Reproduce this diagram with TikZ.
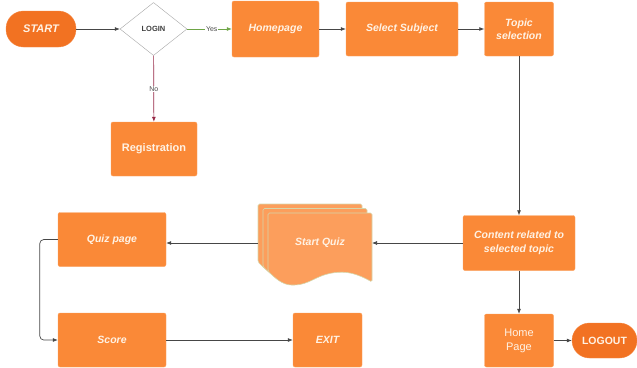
\documentclass[tikz,border=0pt]{standalone}
\usepackage{fontspec}
\setmainfont{Liberation Sans}
\usetikzlibrary{shapes.geometric,arrows.meta}
\definecolor{boxorange}{RGB}{250,137,55}
\definecolor{pillorange}{RGB}{242,114,34}
\definecolor{docorange}{RGB}{252,158,92}
\definecolor{docedge}{RGB}{214,214,170}
\definecolor{boxtext}{RGB}{255,242,228}
\definecolor{yesgreen}{RGB}{110,165,70}
\definecolor{nored}{RGB}{150,40,70}
\definecolor{linegray}{RGB}{70,70,70}
\begin{document}
\begin{tikzpicture}[
        x=1pt, y=-1pt,
        every node/.style={font=\fontsize{10.5}{13.5}\selectfont\bfseries\itshape, text=boxtext, align=center, inner sep=0pt},
        box/.style={rectangle, rounded corners=2pt, fill=boxorange, draw=boxorange!80!white},
        pill/.style={rectangle, rounded corners=17.5pt, fill=pillorange, draw=pillorange!85!white},
        decision/.style={diamond, fill=white, draw=gray!70, text=black!75, font=\fontsize{7.5}{9}\selectfont\bfseries},
        docshape/.style={fill=docorange, draw=docedge, line width=0.6pt, rounded corners=1.5pt},
        flow/.style={-{Latex[length=5pt,width=4pt]}, draw=linegray, line width=0.7pt},
        tag/.style={font=\fontsize{7}{8}\selectfont, text=black!70, fill=white, inner sep=0.6pt}
    ]
        \useasboundingbox (0,0) rectangle (637,367);

        % Top row
        \node[pill, minimum width=70pt, minimum height=36pt, font=\fontsize{11}{13}\selectfont\bfseries\itshape] (start) at (41,29) {START};
        \node[decision, minimum width=67pt, minimum height=53pt] (login) at (153.5,29) {LOGIN};
        \node[box, minimum width=87pt, minimum height=56pt] (home) at (275.5,29) {Homepage};
        \node[box, minimum width=112pt, minimum height=54pt] (subject) at (402,29) {Select Subject};
        \node[box, minimum width=69pt, minimum height=54pt] (topic) at (519,29) {Topic\\selection};
        \node[box, minimum width=86pt, minimum height=54pt, font=\fontsize{11}{13}\selectfont\bfseries] (registration) at (154,149) {Registration};

        % Middle row
        \node[box, minimum width=112pt, minimum height=55pt] (content) at (519,243) {Content related to\\selected topic};
        \foreach \dx/\dy in {-10/-9, -5/-4.5, 0/0}
            \draw[docshape, shift={(\dx,\dy)}] (268,271) -- (268,213) -- (372,213) -- (372,282)
                .. controls (356,273) and (346,271) .. (332,273)
                .. controls (316,276) and (308,285) .. (293,285)
                .. controls (282,285) and (274,277) .. (268,271) -- cycle;
        \node (startquiz) at (320,243) {Start Quiz};
        \coordinate (quizin) at (372,243);
        \coordinate (quizout) at (258,243);
        \node[box, minimum width=108pt, minimum height=54pt] (quizpage) at (112,239.5) {Quiz page};

        % Bottom row
        \node[box, minimum width=108pt, minimum height=54pt] (score) at (112,340) {Score};
        \node[box, minimum width=69pt, minimum height=54pt] (exit) at (327.5,340) {EXIT};
        \node[box, minimum width=69pt, minimum height=53pt, font=\fontsize{11}{14}\selectfont] (homepage) at (519,340.5) {Home\\Page};
        \node[pill, minimum width=65pt, minimum height=35pt, font=\fontsize{10.5}{13}\selectfont\bfseries] (logout) at (604.5,340.5) {LOGOUT};

        % Arrows
        \draw[flow] (start) -- (login);
        \draw[flow, draw=yesgreen] (login) -- node[tag, pos=0.55] {Yes} (home);
        \draw[flow, draw=nored] (login) -- node[tag] {No} (registration);
        \draw[flow] (home) -- (subject);
        \draw[flow] (subject) -- (topic);
        \draw[flow] (topic) -- (content);
        \draw[flow] (content.west) -- (quizin);
        \draw[flow] (quizout) -- (quizout -| quizpage.east);
        \draw[flow, rounded corners=4pt] (quizpage.west) -- ++(-18,0) |- (score.west);
        \draw[flow] (score) -- (exit);
        \draw[flow] (content) -- (homepage);
        \draw[flow] (homepage) -- (logout);
    \end{tikzpicture}
\end{document}
